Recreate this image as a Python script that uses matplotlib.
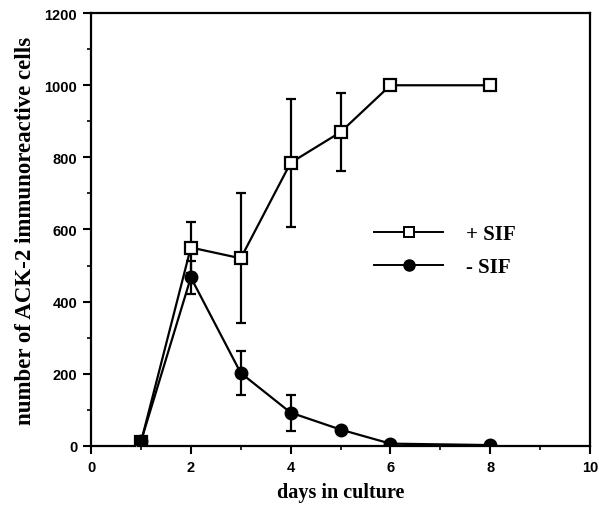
import matplotlib.pyplot as plt
from matplotlib.lines import Line2D
from matplotlib.ticker import MultipleLocator

# data
days = [1, 2, 3, 4, 5, 6, 8]
with_sif = [10, 550, 520, 785, 870, 1000, 1000]
with_sif_err = [0, 70, 180, 178, 108, 0, 0]
without_sif = [12, 467, 202, 92, 45, 6, 2]
without_sif_err = [0, 45, 60, 50, 0, 0, 0]

serif = {'family': 'Liberation Serif', 'weight': 'bold'}

fig = plt.figure(figsize=(5.99, 5.06), dpi=100)
ax = fig.add_axes([0.152, 0.117, 0.833, 0.855])

ax.errorbar(days, with_sif, yerr=with_sif_err, color='black', lw=1.6,
            marker='s', ms=8, mfc='white', mec='black', mew=1.6,
            capsize=3.5, capthick=1.6, elinewidth=1.6, zorder=3)
ax.errorbar(days, without_sif, yerr=without_sif_err, color='black', lw=1.6,
            marker='o', ms=9, mfc='black', mec='black',
            capsize=3.5, capthick=1.6, elinewidth=1.6, zorder=4)

ax.set_xlim(0, 10)
ax.set_ylim(0, 1200)
ax.xaxis.set_major_locator(MultipleLocator(2))
ax.xaxis.set_minor_locator(MultipleLocator(1))
ax.yaxis.set_major_locator(MultipleLocator(200))
ax.yaxis.set_minor_locator(MultipleLocator(100))
ax.tick_params(which='major', direction='out', length=6, width=1.5,
               labelsize=10.5, pad=4)
ax.tick_params(which='minor', direction='out', length=3, width=1.2)
for lab in ax.get_xticklabels() + ax.get_yticklabels():
    lab.set_family('Liberation Sans')
    lab.set_weight('bold')
for s in ax.spines.values():
    s.set_linewidth(1.6)

ax.set_xlabel('days in culture', fontdict=serif, fontsize=14.5, labelpad=6)
ax.set_ylabel('number of ACK-2 immunoreactive cells', fontdict=serif,
              fontsize=16.5, labelpad=6)

handles = [
    Line2D([], [], color='black', lw=1.4, marker='s', ms=7, mfc='white',
           mec='black', mew=1.4),
    Line2D([], [], color='black', lw=1.4, marker='o', ms=8, mfc='black'),
]
ax.legend(handles, ['+ SIF', '- SIF'], loc='upper left',
          bbox_to_anchor=(0.53, 0.555), frameon=False, numpoints=1,
          handlelength=3.3, handletextpad=1.1, labelspacing=0.6,
          prop={'family': 'Liberation Serif', 'weight': 'bold', 'size': 15})

fig.savefig('out.png', dpi=100)
